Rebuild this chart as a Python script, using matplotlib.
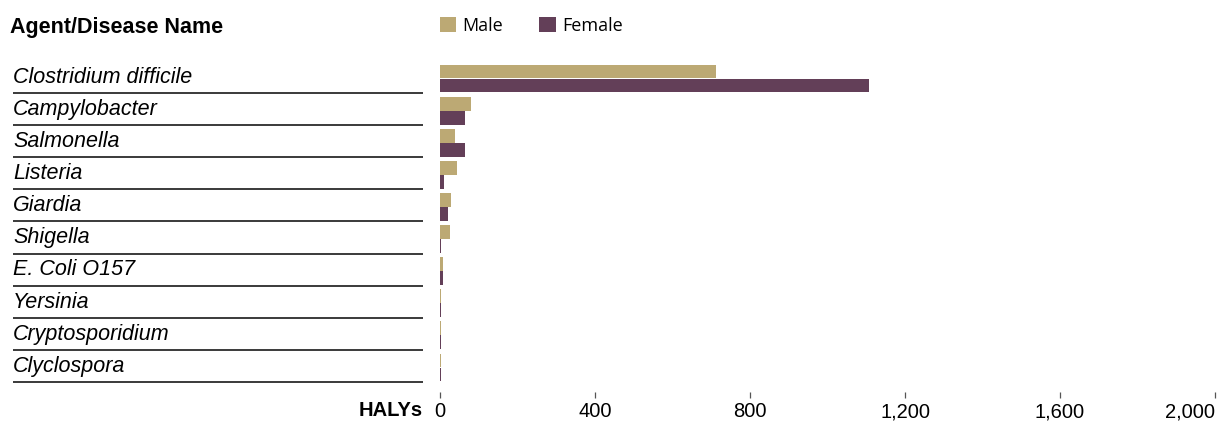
import matplotlib
matplotlib.use("Agg")
import matplotlib.pyplot as plt
import matplotlib.transforms as mtransforms
import numpy as np

plt.rcParams['font.family'] = ['Liberation Sans', 'DejaVu Sans']

agents = ["Clostridium difficile", "Campylobacter", "Salmonella", "Listeria",
          "Giardia", "Shigella", "E. Coli O157", "Yersinia",
          "Cryptosporidium", "Clyclospora"]
male = [712, 80, 39, 44, 28, 26, 8, 2.5, 2, 2]
female = [1107, 65, 65, 10, 21, 2.5, 8, 2.5, 2, 2]
xticks = [0, 400, 800, 1200, 1600, 2000]

male_color = "#BCA974"
female_color = "#633F58"

W, H = 1218, 421
fig = plt.figure(figsize=(W / 100, H / 100), dpi=100)
ax = fig.add_axes([440 / W, 1 - 382 / H, 775 / W, 321 / H])

y = np.arange(len(agents))
hm = ax.barh(y - 0.17, male, height=0.43, color=male_color, linewidth=0, label="Male")
hf = ax.barh(y + 0.265, female, height=0.43, color=female_color, linewidth=0, label="Female")

ax.set_xlim(0, 2000)
ax.set_ylim(len(agents) - 0.5, -0.5)

# row labels and separator lines on the left
trans = mtransforms.blended_transform_factory(ax.transAxes, ax.transData)
for i, name in enumerate(agents):
    ax.text(-0.551, i + 0.01, name, transform=trans, style="italic",
            fontsize=15.5, ha="left", va="center", clip_on=False)
    ax.plot([-0.551, -0.022], [i + 0.5, i + 0.5], transform=trans,
            color="#3a3a3a", lw=1.4, clip_on=False, solid_capstyle="butt")

for s in ["top", "right", "left"]:
    ax.spines[s].set_visible(False)
ax.spines["bottom"].set_position(("outward", 7))
ax.spines["bottom"].set_color("none")
ax.set_yticks([])
ax.set_xticks(xticks)
ax.set_xticklabels([f"{v:,}" for v in xticks], fontsize=14.5)
ax.tick_params(axis="x", length=4.5, width=0.9, color="#555555", pad=3)
ax.get_xticklabels()[-1].set_ha("right")

fig.text(423 / W, 1 - 411 / H, "HALYs", ha="right", va="center",
         fontsize=14.5, fontweight="bold")
fig.text(10 / W, 1 - 27 / H, "Agent/Disease Name", ha="left", va="center",
         fontsize=15.5, fontweight="bold")

fig.legend(handles=[hm, hf], loc="center left", bbox_to_anchor=(440 / W, 1 - 26 / H),
           ncol=2, frameon=False, handlelength=0.9, handleheight=0.9,
           handletextpad=0.35, columnspacing=2.0, borderaxespad=0, borderpad=0,
           prop={"family": "Open Sans", "size": 13})

fig.savefig("out.png", dpi=100)
